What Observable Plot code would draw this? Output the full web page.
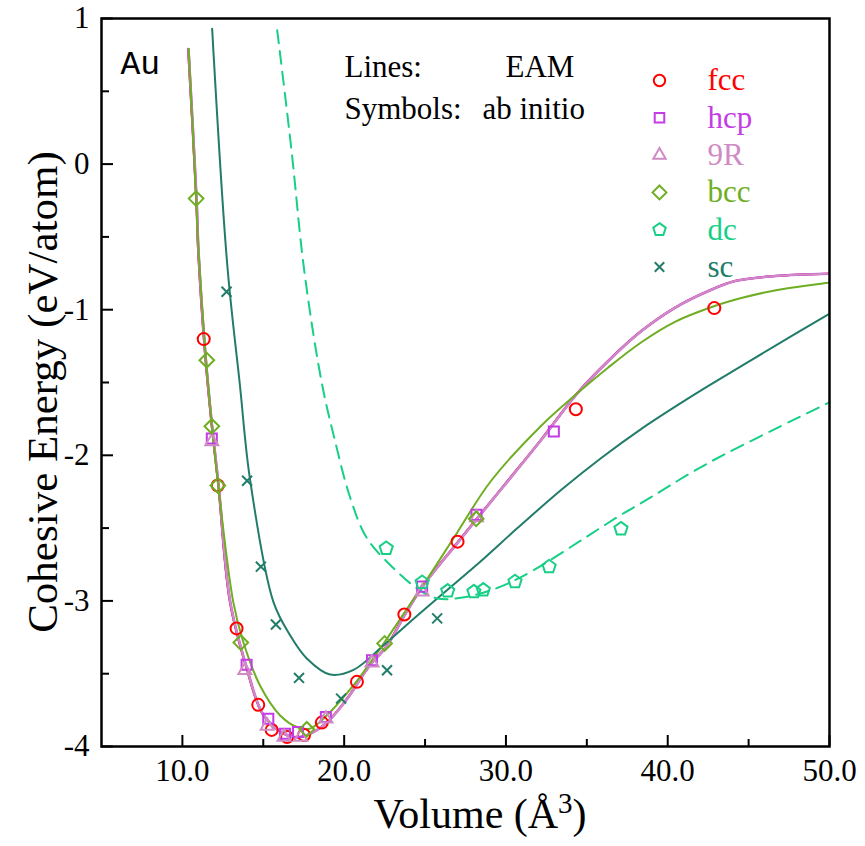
<!DOCTYPE html>
<html><head><meta charset="utf-8">
<script src="https://cdn.jsdelivr.net/npm/d3@7"></script>
<script src="https://cdn.jsdelivr.net/npm/@observablehq/plot@0.6"></script>
<style>body{margin:0;background:#fff}#chart{width:865px;height:846px}</style>
</head><body><div id="chart"></div>
<script>
// ---- EAM curves (lines) [volume, energy] ----
const closePackedLine = [[10.35,0.79],[10.85,-0.237],[10.97,-0.597],[11.38,-1.285],[11.80,-1.789],[12.21,-2.202],[12.93,-3.005],[13.97,-3.465],[15.00,-3.785],[16.45,-3.923],[17.27,-3.935],[18.72,-3.854],[20.17,-3.671],[21.41,-3.465],[22.65,-3.304],[23.72,-3.097],[24.82,-2.902],[26.99,-2.600],[28.23,-2.430],[30.29,-2.150],[32.15,-1.895],[34.32,-1.583],[36.29,-1.354],[38.35,-1.147],[40.42,-0.987],[42.49,-0.872],[44.15,-0.803],[46.61,-0.769],[49.93,-0.753]];
const bccLine = [[10.39,0.79],[10.85,-0.237],[11.0,-0.597],[11.42,-1.285],[11.82,-1.789],[12.21,-2.20],[13.14,-3.005],[13.76,-3.281],[14.79,-3.579],[16.03,-3.785],[17.07,-3.866],[17.89,-3.877],[19.13,-3.763],[20.58,-3.579],[22.23,-3.327],[24.30,-2.985],[25.13,-2.850],[26.99,-2.530],[29.05,-2.180],[32.15,-1.80],[34.32,-1.583],[36.29,-1.40],[38.35,-1.225],[40.42,-1.085],[42.90,-0.975],[44.55,-0.920],[46.61,-0.868],[49.93,-0.815]];
const scLine = [[11.84,0.929],[12.78,-0.700],[13.55,-1.512],[14.17,-2.157],[15.62,-3.005],[16.65,-3.235],[17.69,-3.396],[19.13,-3.506],[20.58,-3.474],[22.44,-3.304],[24.51,-3.102],[26.37,-2.925],[28.64,-2.708],[30.71,-2.500],[33.50,-2.230],[35.87,-2.020],[38.35,-1.820],[40.83,-1.640],[42.49,-1.525],[46.61,-1.250],[49.93,-1.032]];
const dcLine = [[15.86,0.919],[16.74,0.10],[17.43,-0.64],[18.10,-1.170],[18.72,-1.560],[19.34,-1.858],[20.37,-2.29],[21.41,-2.570],[23.06,-2.776],[24.51,-2.914],[25.75,-2.983],[27.61,-2.971],[29.67,-2.902],[31.74,-2.787],[34.84,-2.570],[37.11,-2.409],[38.35,-2.329],[42.49,-2.054],[49.99,-1.637]];

// ---- ab initio points (symbols) ----
const fccPts = [[11.32,-1.202],[12.19,-2.207],[13.35,-3.189],[14.69,-3.714],[15.52,-3.886],[16.47,-3.935],[17.52,-3.921],[18.62,-3.836],[20.79,-3.556],[23.72,-3.093],[27.01,-2.593],[34.32,-1.684],[42.88,-0.989]];
const hcpPts = [[11.82,-1.884],[13.97,-3.439],[15.31,-3.809],[16.34,-3.912],[17.15,-3.900],[18.87,-3.797],[21.72,-3.407],[24.82,-2.902],[28.18,-2.409],[32.96,-1.836]];
const r9Pts = [[11.82,-1.905],[13.86,-3.476],[15.24,-3.859],[16.28,-3.935],[17.32,-3.935],[18.87,-3.809],[21.72,-3.425],[24.82,-2.937],[28.18,-2.427]];
const bccPts = [[10.85,-0.237],[11.51,-1.347],[11.82,-1.801],[12.19,-2.207],[13.61,-3.286],[17.69,-3.882],[22.50,-3.292],[28.16,-2.436]];
const dcPts = [[22.60,-2.639],[24.82,-2.873],[26.40,-2.932],[28.02,-2.937],[28.60,-2.925],[30.56,-2.868],[32.67,-2.765],[37.11,-2.505]];
const scPts = [[12.73,-0.877],[14.00,-2.175],[14.85,-2.765],[15.78,-3.162],[17.21,-3.529],[19.81,-3.671],[22.65,-3.476],[25.75,-3.120]];

// ---- ticks & labels ----
const xMajorTicks = [10, 20, 30, 40, 50];
const xMinorTicks = [15, 25, 35, 45];
const yMajorTicks = [1, 0, -1, -2, -3, -4];
const yMinorTicks = [0.5, -0.5, -1.5, -2.5, -3.5];
const legendLabels = ["fcc", "hcp", "9R", "bcc", "dc", "sc"];
const colors = {fcc: "#ff0000", hcp: "#c43ce6", "9R": "#cf8bc3", bcc: "#6fae23", dc: "#17cf86", sc: "#217c69"};

const pentagon = {draw(context, size) {
  const R = Math.sqrt(size / Math.PI) * 1.15;
  for (let i = 0; i < 5; i++) {
    const a = -Math.PI / 2 + i * 2 * Math.PI / 5;
    const px = R * Math.cos(a), py = R * Math.sin(a);
    if (i) context.lineTo(px, py); else context.moveTo(px, py);
  }
  context.closePath();
}};
const symbolSpec = {
  fcc: {symbol: "circle", r: 6},
  hcp: {symbol: d3.symbolSquare2, r: 6.4},
  "9R": {symbol: d3.symbolTriangle2, r: 6.2},
  bcc: {symbol: d3.symbolDiamond2, r: 6.6},
  dc: {symbol: pentagon, r: 6},
  sc: {symbol: d3.symbolTimes, r: 4.6}
};
const ptsBy = {fcc: fccPts, hcp: hcpPts, "9R": r9Pts, bcc: bccPts, dc: dcPts, sc: scPts};

const W = 865, H = 846, mL = 101, mR = 36, mT = 18, mB = 100;
const innerW = W - mL - mR, innerH = H - mT - mB;
const X = d => d[0], Y = d => d[1];
const CURVE = "catmull-rom";

const marks = [
  Plot.line(closePackedLine, {x: X, y: Y, stroke: colors.fcc, strokeWidth: 2, curve: CURVE}),
  Plot.line(closePackedLine, {x: X, y: Y, stroke: colors.hcp, strokeWidth: 2.6, curve: CURVE, dx: 0.4}),
  Plot.line(closePackedLine, {x: X, y: Y, stroke: colors["9R"], strokeWidth: 2.2, curve: CURVE, dx: 0.4}),
  Plot.line(bccLine, {x: X, y: Y, stroke: colors.bcc, strokeWidth: 2, curve: CURVE}),
  Plot.line(scLine, {x: X, y: Y, stroke: colors.sc, strokeWidth: 2, curve: CURVE}),
  Plot.line(dcLine, {x: X, y: Y, stroke: colors.dc, strokeWidth: 2, curve: CURVE, strokeDasharray: "13,8"}),
];
for (const k of legendLabels) {
  marks.push(Plot.dot(ptsBy[k], {x: X, y: Y, symbol: symbolSpec[k].symbol, r: symbolSpec[k].r, stroke: colors[k], fill: "none", strokeWidth: 2}));
}
legendLabels.forEach((k, i) => {
  marks.push(Plot.dot([k], {frameAnchor: "top-left", dx: 558, dy: 62 + i * 37.3, symbol: symbolSpec[k].symbol, r: symbolSpec[k].r * 0.95, stroke: colors[k], fill: "none", strokeWidth: 2}));
  marks.push(Plot.text([k], {frameAnchor: "top-left", lineAnchor: "middle", dx: 606, dy: 62 + i * 37.3, text: d => d, fill: colors[k], textAnchor: "start", fontSize: 31}));
});
marks.push(
  Plot.text(["Au"], {frameAnchor: "top-left", lineAnchor: "middle", dx: 19, dy: 45, text: d => d, textAnchor: "start", fontFamily: "'Liberation Mono', monospace", fontSize: 33}),
  Plot.text(["Lines:"], {frameAnchor: "top-left", lineAnchor: "middle", dx: 243, dy: 49, text: d => d, textAnchor: "start", fontSize: 31}),
  Plot.text(["EAM"], {frameAnchor: "top-left", lineAnchor: "middle", dx: 404, dy: 49, text: d => d, textAnchor: "start", fontSize: 31}),
  Plot.text(["Symbols:"], {frameAnchor: "top-left", lineAnchor: "middle", dx: 243, dy: 91, text: d => d, textAnchor: "start", fontSize: 31}),
  Plot.text(["ab initio"], {frameAnchor: "top-left", lineAnchor: "middle", dx: 381, dy: 91, text: d => d, textAnchor: "start", fontSize: 31}),
  Plot.tickX(xMajorTicks, {x: d => d, insetTop: innerH - 11, stroke: "black", strokeWidth: 2}),
  Plot.tickX(xMinorTicks, {x: d => d, insetTop: innerH - 7, stroke: "black", strokeWidth: 2}),
  Plot.tickY(yMajorTicks, {y: d => d, insetRight: innerW - 12, stroke: "black", strokeWidth: 2}),
  Plot.tickY(yMinorTicks, {y: d => d, insetRight: innerW - 8, stroke: "black", strokeWidth: 2}),
  Plot.axisX({ticks: xMajorTicks, tickSize: 0, tickPadding: 12, tickFormat: d => d.toFixed(1), label: null, fontSize: 31}),
  Plot.axisY({ticks: yMajorTicks, tickSize: 0, tickPadding: 12, tickFormat: d => `${d}`, label: null, fontSize: 31}),
  Plot.frame({stroke: "black", strokeWidth: 2.5})
);

const svg = Plot.plot({
  width: W, height: H,
  marginLeft: mL, marginRight: mR, marginTop: mT, marginBottom: mB,
  x: {domain: [5, 50], label: null},
  y: {domain: [-4, 1], label: null},
  style: {fontFamily: "'Liberation Serif', 'Times New Roman', serif", fontSize: "31px", color: "black", background: "white", overflow: "visible"},
  marks
});

const s = d3.select(svg);
const xt = s.append("text")
  .attr("x", 480).attr("y", 828)
  .attr("text-anchor", "middle")
  .attr("font-family", "'Liberation Serif', 'Times New Roman', serif")
  .attr("font-size", 42).attr("fill", "black");
xt.append("tspan").text("Volume (Å");
xt.append("tspan").attr("dy", -15).attr("font-size", 29).text("3");
xt.append("tspan").attr("dy", 15).text(")");
s.append("text")
  .attr("transform", "translate(57,392) rotate(-90)")
  .attr("text-anchor", "middle")
  .attr("font-family", "'Liberation Serif', 'Times New Roman', serif")
  .attr("font-size", 43).attr("fill", "black")
  .text("Cohesive Energy (eV/atom)");

document.getElementById("chart").appendChild(svg);
</script>
</body></html>
